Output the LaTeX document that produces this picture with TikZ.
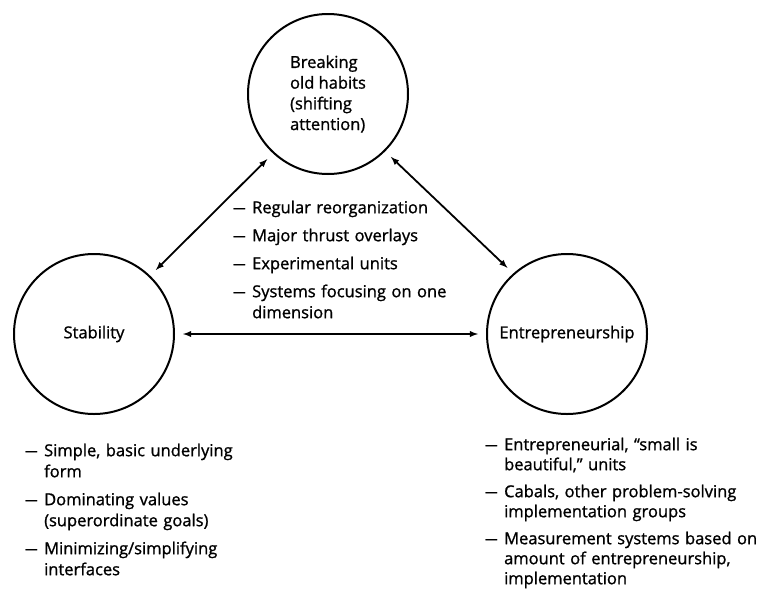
\documentclass[tikz,border=0pt]{standalone}
\usepackage{fontspec}
\setmainfont{Open Sans}[FakeBold=1.1]
\usetikzlibrary{positioning}

% dash item with hanging indent for the lists
\newcommand{\dashline}{\par\noindent\hangindent=1.15em\hangafter=1\makebox[1.15em][l]{\scalebox{0.75}[1]{---}}}

\begin{document}
\begin{tikzpicture}[x=1pt,y=-1pt,
	hub/.style={circle,draw,line width=2pt,minimum size=160pt,inner sep=0pt,outer sep=9pt,
		font=\fontsize{16.5}{20.7}\selectfont},
	link/.style={line width=1.8pt,<->,>=latex},
	listbox/.style={anchor=north west,inner sep=0pt,align=left,
		font=\fontsize{16.5}{21}\selectfont,
		execute at begin node={\setlength{\parskip}{7pt}}}]
	\useasboundingbox (0,0) rectangle (760,592);
	\node[hub,align=left] (brk) at (328,94) {Breaking\\old habits\\(shifting\\attention)};
	\node[hub] (stab) at (94,334) {Stability};
	\node[hub] (ent) at (567,334) {Entrepreneurship};
	\draw[link] (stab.46) -- (brk.227);
	\draw[link] (brk.-45) -- (ent.132);
	\draw[link] (stab.east) -- (ent.west);
	\node[listbox,text width=250pt] (midlist) at (233,185) {%
		\dashline Regular reorganization
		\dashline Major thrust overlays
		\dashline Experimental units
		\dashline Systems focusing on one\newline dimension\par};
	\node[listbox,text width=230pt] (stablist) at (25,428) {%
		\dashline Simple, basic underlying\newline form
		\dashline Dominating values\newline (superordinate goals)
		\dashline Minimizing/simplifying\newline interfaces\par};
	\node[listbox,text width=275pt,font=\fontsize{16.5}{20}\selectfont] (entlist) at (485,423) {%
		\dashline Entrepreneurial, ``small is\newline beautiful,'' units
		\dashline Cabals, other problem-solving\newline implementation groups
		\dashline Measurement systems based on\newline amount of entrepreneurship,\newline implementation\par};
\end{tikzpicture}
\end{document}
